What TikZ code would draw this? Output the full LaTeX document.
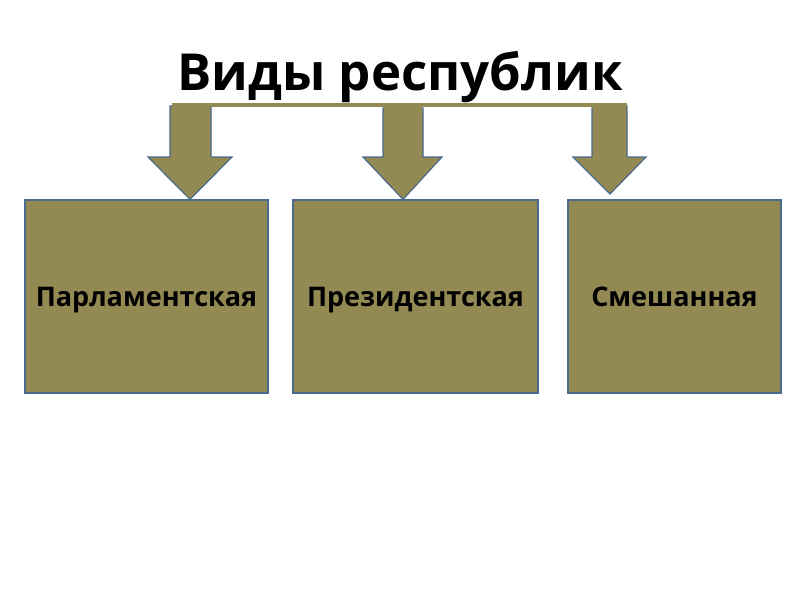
\documentclass[tikz,border=0pt]{standalone}
\usepackage{fontspec}
\setmainfont{Open Sans}
\definecolor{olive}{HTML}{938953}
\definecolor{edge}{HTML}{4A6A8E}
\tikzset{
  box/.style={draw=edge, line width=1.2pt, fill=olive, minimum width=#1, minimum height=193pt, inner sep=0pt, text height=24pt, text depth=5pt, font=\bfseries\fontsize{27}{30}\selectfont},
  arr/.style={draw=edge, line width=1.2pt, fill=olive, line join=miter},
}
\begin{document}
\begin{tikzpicture}[x=1pt,y=-1pt]
\useasboundingbox (0,0) rectangle (800,600);
\fill[white] (0,0) rectangle (800,600);
\node[font=\bfseries\fontsize{51}{58}\selectfont, anchor=base] (title) at (400,90) {Виды республик};
% boxes
\node[box=243pt] (b1) at (146.5,296.5) {Парламентская};
\node[box=245pt] (b2) at (415.5,296.5) {Президентская};
\node[box=213pt] (b3) at (674.5,296.5) {Смешанная};
% arrows
\draw[arr] (170,106) -- (211,106) -- (211,157) -- (232,157) -- (b1.north -| 190,0) -- (148,157) -- (170,157) -- cycle;
\draw[arr] (383,108) -- (423,108) -- (423,157) -- (442,157) -- (b2.north -| 403,0) -- (363,157) -- (383,157) -- cycle;
\draw[arr] (592,108) -- (627,106) -- (627,157) -- (646,157) -- (610,194) coordinate (tip3) -- (573,157) -- (592,157) -- cycle;
% connecting bar
\fill[olive] (172,103) rectangle (627,107);
\fill[olive] (171,107) rectangle (210,112);
\fill[olive] (384,107) rectangle (422,112);
\fill[olive] (593,107) rectangle (626,112);
\end{tikzpicture}
\end{document}
